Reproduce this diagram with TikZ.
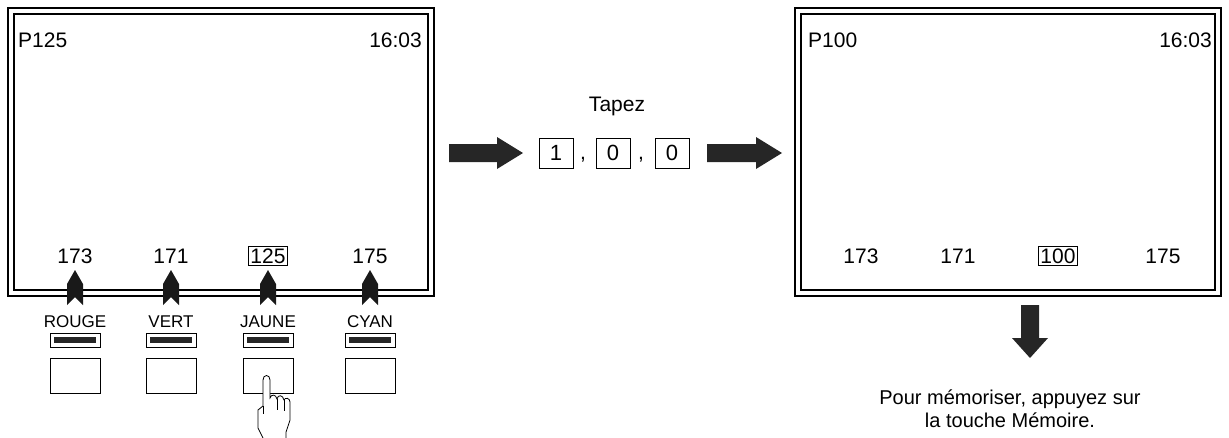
\documentclass[tikz,border=0pt]{standalone}
\usepackage{fontspec}
\setmainfont{Liberation Sans}
\begin{document}
\begin{tikzpicture}[x=1pt,y=-1pt,
  lbl/.style={font=\fontsize{21}{24}\selectfont,inner sep=0pt},
  keybox/.style={draw,line width=1pt,inner sep=2pt,font=\fontsize{22}{24}\selectfont,minimum width=34pt,minimum height=30pt},
  numbox/.style={draw,line width=1pt,inner sep=2pt,font=\fontsize{21}{24}\selectfont},
  fat/.style={fill=black!85,draw=black}]
\useasboundingbox (0,0) rectangle (1229,437);
% screens
\foreach \x/\n in {8/L,795/R}{
  \draw[line width=1.6pt] (\x,8) rectangle ++(426,288);
  \draw[line width=1.6pt] (\x+6,14) rectangle ++(414,276);
}
\node[lbl,anchor=west] (pl) at (18,40) {P125};
\node[lbl,anchor=east] (tl) at (422,40) {16:03};
\node[lbl,anchor=west] (pr) at (808,40) {P100};
\node[lbl,anchor=east] (tr) at (1212,40) {16:03};
\node[lbl] (a1) at (75,256) {173};
\node[lbl] (a2) at (171,256) {171};
\node[numbox] (a3) at (268,256) {125};
\node[lbl] (a4) at (370,256) {175};
\node[lbl] (b1) at (861,256) {173};
\node[lbl] (b2) at (958,256) {171};
\node[numbox] (b3) at (1058,256) {100};
\node[lbl] (b4) at (1163,256) {175};
% colour keys
\foreach \x/\c [count=\i] in {75/ROUGE,171/VERT,268/JAUNE,370/CYAN}{
  \fill[black!90] (\x-8,305) -- (\x-8,284) -- (\x,270) -- (\x+8,284) -- (\x+8,305) -- (\x,297) -- cycle;
  \node[lbl,font=\fontsize{17}{20}\selectfont] (c\i) at (\x,322) {\c};
  \draw (\x-25,333) rectangle (\x+25,347);
  \fill[black!85] (\x-21,337) rectangle (\x+21,343);
  \node[draw,line width=0.9pt,minimum width=50pt,minimum height=35pt,inner sep=0pt] (k\i) at (\x,375.5) {};
}
% hand
\draw[line width=0.8pt,fill=white] (264,440) -- (258,428) -- (258,410) -- (263,406) -- (263,380) .. controls (263,374) and (270,374) .. (270,380)
  -- (270,398) .. controls (271,394) and (276,394) .. (277,399) .. controls (278,394) and (283,395) .. (284,400)
  .. controls (285,397) and (290,398) .. (290,402) -- (290,420) -- (286,432) -- (286,440);
\draw[line width=0.6pt] (277,399) -- (277,410) (284,400) -- (284,411) (263,406) -- (263,414);
% centre
\node[lbl] (tap) at (617,106) {Tapez};
\node[keybox] (n1) at (556,153) {1};
\node[lbl] (co1) at (583,160) {,};
\node[keybox] (n2) at (613,153) {0};
\node[lbl] (co2) at (641,160) {,};
\node[keybox] (n3) at (672,153) {0};
\fill[black!85] (449,144) -- (497,144) -- (497,137) -- (523,153) -- (497,169) -- (497,162) -- (449,162) -- cycle;
\fill[black!85] (707,144) -- (756,144) -- (756,137) -- (782,153) -- (756,169) -- (756,162) -- (707,162) -- cycle;
% down arrow
\fill[black!85] (1021,305) -- (1039,305) -- (1039,338) -- (1048,338) -- (1030,358) -- (1012,338) -- (1021,338) -- cycle;
\node[lbl,align=center,font=\fontsize{20}{23}\selectfont] (memo) at (1010,409) {Pour mémoriser, appuyez sur\\la touche Mémoire.};
\end{tikzpicture}
\end{document}
